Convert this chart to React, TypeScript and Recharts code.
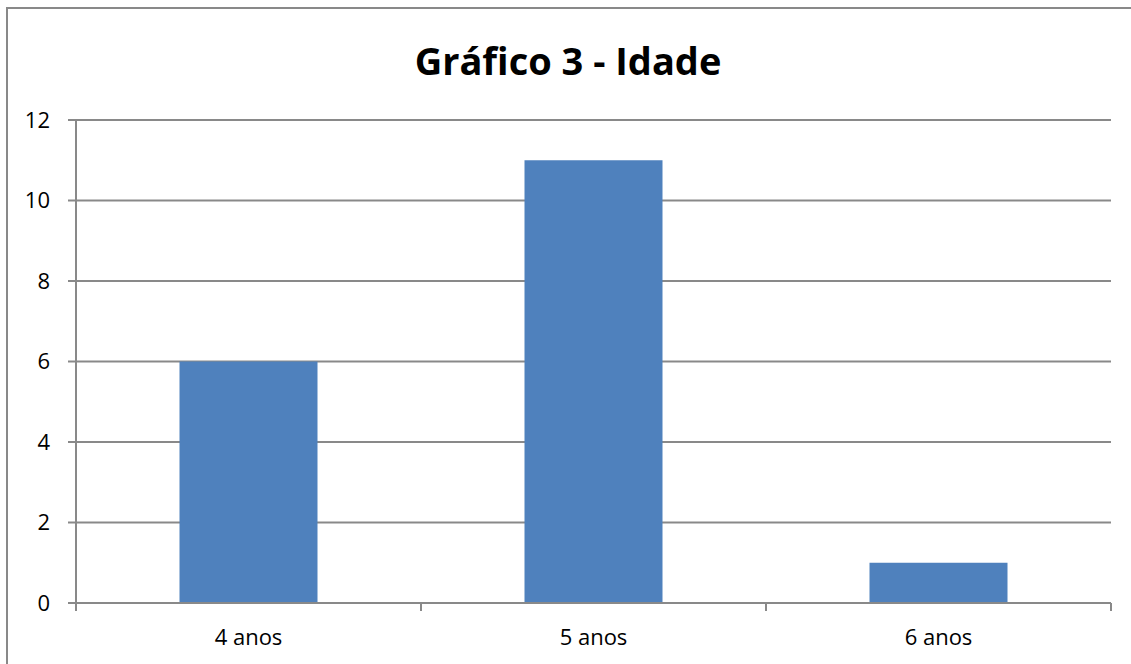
import { BarChart, Bar, XAxis, YAxis, CartesianGrid } from 'recharts';

const categories = ['4 anos', '5 anos', '6 anos'];
const counts = [6, 11, 1];
const yTicks = [0, 2, 4, 6, 8, 10, 12];

const chartTitle = 'Gráfico 3 - Idade';

const data = categories.map((name, i) => ({ name, value: counts[i] }));

const LINE = '#898989';
const FONT = '"Open Sans", sans-serif';

function CategoryTick(props: any) {
  const { x, y, payload, index, visibleTicksCount } = props;
  const half = payload.offset ?? 0;
  const isLast = index === visibleTicksCount - 1;
  return (
    <g>
      <line x1={x - half} y1={y} x2={x - half} y2={y + 8} stroke={LINE} strokeWidth={2} />
      {isLast && (
        <line x1={x + half} y1={y} x2={x + half} y2={y + 8} stroke={LINE} strokeWidth={2} />
      )}
      <text x={x} y={y + 42} textAnchor="middle" fill="#000" fontSize={22} fontFamily={FONT}>
        {payload.value}
      </text>
    </g>
  );
}

export default function App() {
  return (
    <div style={{ position: 'absolute', left: 0, top: 0, width: 1131, height: 664, background: '#fff', overflow: 'hidden' }}>
      {/* outer frame (only top and left edges are in view) + title */}
      <svg width={1131} height={664} style={{ position: 'absolute', left: 0, top: 0 }}>
        <line x1={6} y1={8} x2={1131} y2={8} stroke={LINE} strokeWidth={2} />
        <line x1={7} y1={7} x2={7} y2={664} stroke={LINE} strokeWidth={2} />
        <text x={568} y={75} textAnchor="middle" fontSize={38} fontWeight="bold" fontFamily={FONT} fill="#000">
          {chartTitle}
        </text>
      </svg>
      <div style={{ position: 'absolute', left: 0, top: 0 }}>
        <BarChart
          width={1131}
          height={664}
          data={data}
          margin={{ top: 120, right: 20, bottom: 0, left: 0 }}
          barCategoryGap="30%"
        >
          <CartesianGrid vertical={false} stroke={LINE} strokeWidth={2} />
          <XAxis
            dataKey="name"
            height={61}
            tickLine={false}
            tickSize={0}
            tickMargin={0}
            axisLine={{ stroke: LINE, strokeWidth: 2 }}
            tick={<CategoryTick />}
            interval={0}
          />
          <YAxis
            width={76}
            domain={[0, 12]}
            ticks={yTicks}
            interval={0}
            tickSize={8}
            tickMargin={18}
            axisLine={{ stroke: LINE, strokeWidth: 2 }}
            tickLine={{ stroke: LINE, strokeWidth: 2 }}
            tick={{ fill: '#000', fontSize: 22, fontFamily: FONT }}
          />
          <Bar dataKey="value" fill="#4F81BD" isAnimationActive={false} />
        </BarChart>
      </div>
    </div>
  );
}
